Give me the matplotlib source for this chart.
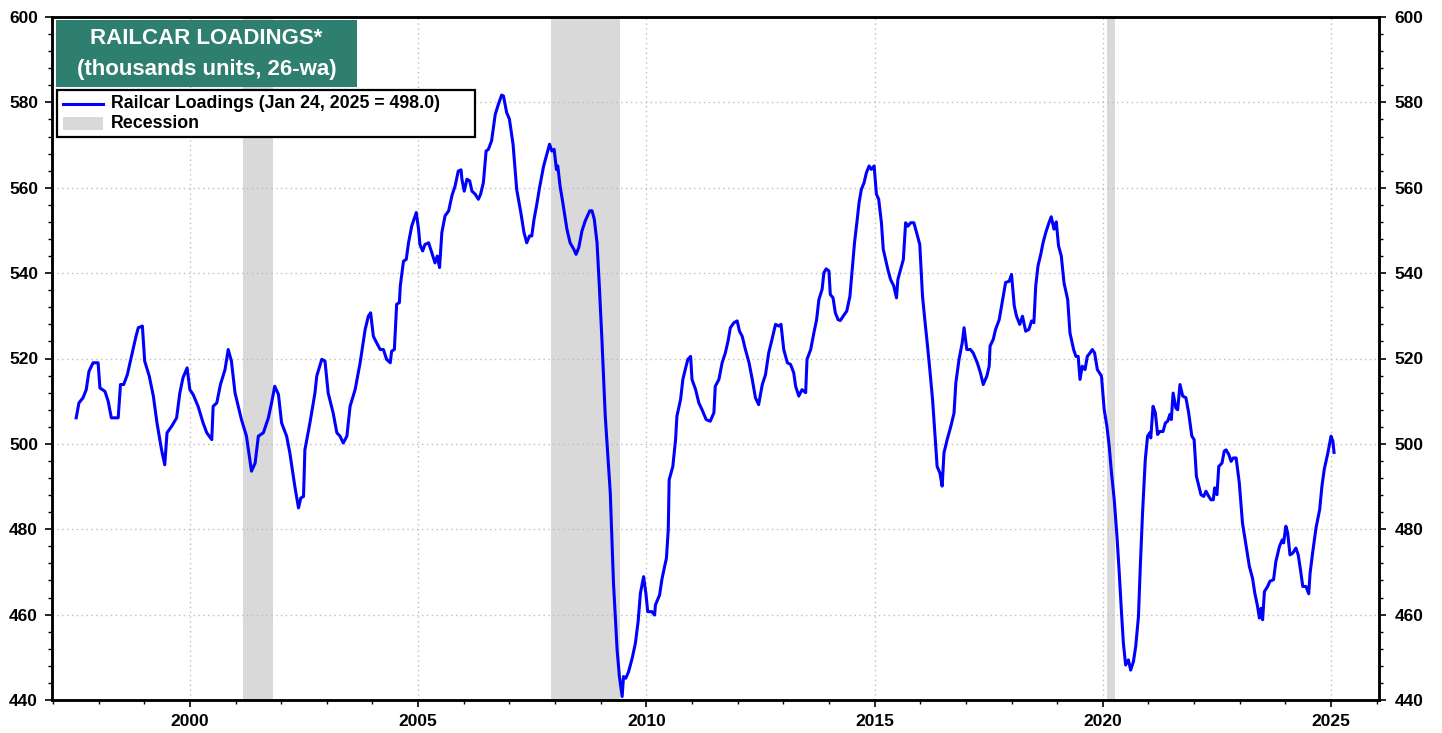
import matplotlib
matplotlib.use('Agg')
import matplotlib.pyplot as plt
from matplotlib.patches import Rectangle
from matplotlib.lines import Line2D
from matplotlib.ticker import MultipleLocator, FixedLocator, FixedFormatter

plt.rcParams['font.family'] = ['Liberation Sans', 'DejaVu Sans']
plt.rcParams['font.weight'] = 'bold'

# ---------------- data ----------------
years = [
    1997.51, 1997.57, 1997.66, 1997.73, 1997.79, 1997.88, 1997.99, 1998.03, 1998.14, 1998.21,
    1998.28, 1998.43, 1998.48, 1998.55, 1998.63, 1998.72, 1998.82, 1998.87, 1998.96, 1999.01,
    1999.11, 1999.20, 1999.28, 1999.38, 1999.45, 1999.50, 1999.60, 1999.71, 1999.78, 1999.85,
    1999.94, 2000.00, 2000.07, 2000.18, 2000.29, 2000.37, 2000.48, 2000.51, 2000.59, 2000.67,
    2000.77, 2000.84, 2000.91, 2000.99, 2001.13, 2001.24, 2001.35, 2001.43, 2001.50, 2001.61,
    2001.72, 2001.79, 2001.86, 2001.94, 2002.01, 2002.12, 2002.19, 2002.30, 2002.38, 2002.43,
    2002.49, 2002.52, 2002.63, 2002.74, 2002.78, 2002.89, 2002.96, 2003.03, 2003.14, 2003.22,
    2003.29, 2003.36, 2003.44, 2003.51, 2003.62, 2003.73, 2003.84, 2003.91, 2003.96, 2004.02,
    2004.09, 2004.17, 2004.24, 2004.31, 2004.39, 2004.42, 2004.48, 2004.53, 2004.59,
    2004.61, 2004.68, 2004.74, 2004.79, 2004.86, 2004.91, 2004.96, 2005.01, 2005.04, 2005.10,
    2005.15, 2005.23, 2005.30, 2005.37, 2005.42, 2005.47, 2005.52, 2005.59, 2005.67, 2005.74,
    2005.81, 2005.88, 2005.94, 2005.96, 2006.01, 2006.07, 2006.13, 2006.18, 2006.25, 2006.32,
    2006.37, 2006.43, 2006.49, 2006.54, 2006.61, 2006.69, 2006.76, 2006.83, 2006.87, 2006.94,
    2007.00, 2007.08, 2007.16, 2007.25, 2007.32, 2007.38, 2007.44, 2007.49, 2007.54, 2007.60,
    2007.66, 2007.75, 2007.82, 2007.88, 2007.93, 2007.98, 2008.03, 2008.06, 2008.11, 2008.17,
    2008.26, 2008.33, 2008.41, 2008.46, 2008.52, 2008.59, 2008.66, 2008.76, 2008.81, 2008.86,
    2008.92, 2008.97,
    2009.03, 2009.10, 2009.21, 2009.28, 2009.36, 2009.41, 2009.47, 2009.50, 2009.55, 2009.61,
    2009.69, 2009.76, 2009.82, 2009.87, 2009.94, 2009.99, 2010.03, 2010.12, 2010.18, 2010.20,
    2010.29, 2010.34, 2010.40, 2010.44, 2010.48, 2010.50, 2010.58, 2010.64, 2010.67, 2010.75,
    2010.80, 2010.87, 2010.91, 2010.97, 2011.00, 2011.08, 2011.15, 2011.22, 2011.31, 2011.40,
    2011.48, 2011.51, 2011.59, 2011.66, 2011.73, 2011.79, 2011.84, 2011.92, 2011.99, 2012.04,
    2012.10, 2012.17, 2012.25, 2012.32, 2012.39, 2012.46, 2012.54, 2012.61, 2012.68, 2012.76,
    2012.83, 2012.90, 2012.95, 2013.01, 2013.09,
    2013.16, 2013.23, 2013.27, 2013.34, 2013.41, 2013.49, 2013.52, 2013.60, 2013.67, 2013.73,
    2013.78, 2013.85, 2013.89, 2013.94, 2014.00, 2014.03, 2014.09, 2014.14, 2014.20, 2014.25,
    2014.31, 2014.39, 2014.46, 2014.51, 2014.56, 2014.62, 2014.66, 2014.71, 2014.77, 2014.82,
    2014.88, 2014.93, 2014.99, 2015.04, 2015.09, 2015.15, 2015.19, 2015.24, 2015.29, 2015.35,
    2015.42, 2015.48, 2015.51, 2015.57, 2015.63, 2015.68, 2015.73, 2015.79, 2015.86, 2015.92,
    2015.99, 2016.05, 2016.10, 2016.16, 2016.21, 2016.27, 2016.32, 2016.37, 2016.43, 2016.48,
    2016.52, 2016.59, 2016.67, 2016.74, 2016.78, 2016.85, 2016.92, 2016.96, 2017.02, 2017.10,
    2017.16, 2017.25, 2017.32, 2017.38, 2017.46, 2017.51, 2017.53, 2017.60, 2017.65, 2017.73,
    2017.80, 2017.87,
    2017.95, 2018.00, 2018.06, 2018.11, 2018.18, 2018.24, 2018.31, 2018.38, 2018.44, 2018.49,
    2018.53, 2018.58, 2018.64, 2018.69, 2018.75, 2018.82, 2018.87, 2018.93, 2018.98, 2019.03,
    2019.09, 2019.15, 2019.23, 2019.28, 2019.36, 2019.41, 2019.46, 2019.50, 2019.55, 2019.61,
    2019.66, 2019.72, 2019.77, 2019.82, 2019.88, 2019.97, 2020.03, 2020.09, 2020.14, 2020.19,
    2020.25, 2020.31, 2020.36, 2020.41, 2020.45, 2020.50, 2020.56, 2020.61, 2020.67, 2020.72,
    2020.78,
    2020.82, 2020.87, 2020.93, 2020.98, 2021.03, 2021.05, 2021.10, 2021.15, 2021.20, 2021.25,
    2021.32, 2021.37, 2021.42, 2021.47, 2021.50, 2021.54, 2021.60, 2021.64, 2021.69, 2021.75,
    2021.82, 2021.88, 2021.95, 2022.00, 2022.05, 2022.15, 2022.21, 2022.26, 2022.32, 2022.37,
    2022.42, 2022.45, 2022.50, 2022.54, 2022.61, 2022.66, 2022.70, 2022.76, 2022.81, 2022.86,
    2022.92, 2022.99, 2023.06, 2023.14, 2023.21, 2023.28, 2023.33, 2023.39, 2023.43, 2023.47,
    2023.50, 2023.54, 2023.61, 2023.66, 2023.74, 2023.79, 2023.87, 2023.93, 2023.96, 2024.01,
    2024.05, 2024.10, 2024.16, 2024.23, 2024.28, 2024.33, 2024.38, 2024.45, 2024.51, 2024.54,
    2024.60, 2024.67, 2024.75, 2024.80, 2024.85, 2024.93, 2025.00, 2025.04, 2025.065,
]

loadings = [
    506.1, 509.6, 510.8, 512.7, 517.0, 519.0, 519.0, 513.1, 512.3, 510.0,
    506.1, 506.1, 513.9, 513.9, 516.2, 520.5, 525.2, 527.2, 527.6, 519.4,
    515.9, 511.2, 504.9, 498.6, 495.1, 502.6, 504.1, 506.1, 511.9, 515.5,
    517.8, 512.7, 511.6, 508.8, 504.9, 502.6, 501.0, 508.8, 509.6, 513.9,
    517.4, 522.1, 519.4, 511.9, 505.7, 501.8, 493.6, 495.5, 501.8, 502.6,
    506.1, 509.6, 513.5, 511.6, 504.9, 501.8, 497.9, 490.0, 485.0, 487.3,
    487.7, 498.6, 504.9, 511.9, 515.9, 519.8, 519.4, 511.9, 507.2, 502.6,
    501.8, 500.2, 501.8, 508.8, 512.7, 519.0, 526.8, 529.9, 530.7, 525.2,
    523.7, 522.1, 522.1, 519.8, 519.0, 521.7, 522.1, 532.7, 533.1,
    537.0, 542.8, 543.2, 547.1, 551.0, 552.6, 554.2, 550.3, 546.7, 545.2,
    546.7, 547.1, 544.8, 542.4, 544.0, 541.3, 549.5, 553.4, 554.6, 558.1,
    560.4, 563.9, 564.2, 562.0, 559.2, 562.0, 561.6, 559.2, 558.5, 557.3,
    558.5, 561.2, 568.6, 569.0, 571.0, 577.2, 579.6, 581.7, 581.5, 577.6,
    576.1, 570.2, 559.6, 554.2, 549.5, 547.1, 548.7, 548.7, 552.6, 556.1,
    560.0, 565.1, 567.9, 570.2, 568.6, 569.0, 564.3, 565.1, 560.4, 556.5,
    550.3, 547.1, 545.6, 544.4, 546.0, 549.9, 552.2, 554.6, 554.6, 552.6,
    547.1, 537.0,
    523.7, 506.5, 488.5, 467.4, 451.7, 445.5, 440.8, 445.5, 445.1, 446.6,
    449.8, 453.3, 458.4, 465.0, 468.9, 465.0, 460.7, 460.7, 459.9, 462.3,
    464.6, 468.2, 471.3, 473.2, 479.9, 491.6, 494.7, 501.0, 506.5, 510.4,
    515.1, 518.2, 519.8, 520.5, 515.1, 512.7, 509.6, 508.0, 505.7, 505.3,
    507.3, 513.5, 515.1, 519.0, 521.3, 524.1, 527.2, 528.4, 528.8, 526.4,
    525.2, 522.1, 519.0, 515.1, 510.8, 509.2, 513.9, 516.2, 521.3, 524.8,
    528.0, 527.6, 528.0, 522.1, 519.0,
    518.6, 516.6, 513.5, 511.2, 512.7, 512.0, 519.8, 522.1, 526.0, 529.1,
    533.8, 536.2, 540.1, 541.0, 540.5, 535.0, 534.2, 530.7, 529.1, 528.9,
    529.9, 531.1, 534.6, 540.9, 547.1, 552.6, 556.5, 559.6, 561.2, 563.5,
    565.1, 564.3, 565.1, 558.5, 557.3, 551.8, 545.6, 543.2, 540.9, 538.5,
    537.0, 534.2, 538.5, 540.9, 543.2, 551.8, 551.0, 551.8, 551.8, 549.5,
    546.7, 534.6, 529.1, 522.9, 517.4, 510.4, 502.6, 494.7, 493.2, 490.1,
    497.9, 501.0, 504.1, 507.2, 514.3, 519.8, 523.7, 527.2, 522.1, 522.1,
    521.3, 519.0, 516.6, 513.9, 515.9, 518.2, 522.9, 524.5, 526.8, 529.1,
    533.4, 537.8,
    538.1, 539.7, 532.3, 529.9, 528.0, 529.9, 526.4, 526.8, 528.8, 528.4,
    537.0, 541.7, 544.4, 547.1, 549.5, 551.8, 553.2, 550.3, 552.0, 546.4,
    544.0, 537.7, 533.8, 526.0, 522.1, 520.5, 520.5, 515.1, 518.2, 517.4,
    520.5, 521.3, 522.1, 521.3, 517.4, 515.9, 508.0, 504.1, 499.4, 493.2,
    486.9, 478.3, 469.7, 460.3, 453.3, 448.2, 449.4, 447.0, 449.0, 452.5,
    459.5,
    471.0, 483.8, 496.3, 501.8, 502.6, 501.4, 508.8, 507.3, 502.2, 502.9,
    502.9, 504.9, 505.3, 506.9, 505.7, 511.9, 508.4, 508.0, 513.9, 511.2,
    510.8, 507.3, 501.8, 501.0, 492.4, 488.1, 487.7, 488.9, 487.7, 486.9,
    486.9, 489.7, 488.1, 494.7, 495.5, 498.3, 498.6, 497.5, 495.9, 496.7,
    496.7, 490.8, 481.4, 476.0, 471.3, 468.5, 465.0, 461.9, 459.2, 461.5,
    458.8, 465.4, 466.6, 467.8, 468.2, 472.4, 476.0, 477.5, 476.8, 480.7,
    479.1, 474.0, 474.4, 475.6, 474.0, 470.5, 466.6, 466.6, 464.9, 469.7,
    474.8, 480.3, 484.6, 490.1, 494.0, 497.9, 501.8, 500.6, 498.0,
]

recession_start = [2001.17, 2007.92, 2020.10]
recession_end = [2001.83, 2009.42, 2020.27]

xtick_years = [2000, 2005, 2010, 2015, 2020, 2025]
xtick_labels = ['2000', '2005', '2010', '2015', '2020', '2025']
ytick_values = [440, 460, 480, 500, 520, 540, 560, 580, 600]
ytick_labels = ['440', '460', '480', '500', '520', '540', '560', '580', '600']

title_lines = ['RAILCAR LOADINGS*', '(thousands units, 26-wa)']
legend_series = 'Railcar Loadings (Jan 24, 2025 = %.1f)' % loadings[-1]
legend_recession = 'Recession'

# ---------------- figure ----------------
W, H = 1442, 733
fig = plt.figure(figsize=(W / 100, H / 100), dpi=100)
fig.patch.set_facecolor('white')


def fx(px):
    return px / W


def fy(py):
    return 1 - py / H


ax = fig.add_axes([fx(52), fy(700), (1379 - 52) / W, (700 - 17) / H])

LINE_BLUE = '#0000FF'
REC_GREY = '#D9D9D9'

for s, e in zip(recession_start, recession_end):
    ax.axvspan(s, e, color=REC_GREY, lw=0, zorder=1)

ax.plot(years, loadings, color=LINE_BLUE, lw=2.2, zorder=3, solid_joinstyle='round')

ax.set_xlim(1996.98, 2026.05)
ax.set_ylim(440, 600)

ax.xaxis.set_major_locator(FixedLocator(xtick_years))
ax.xaxis.set_major_formatter(FixedFormatter(xtick_labels))
ax.xaxis.set_minor_locator(MultipleLocator(1))
ax.yaxis.set_major_locator(FixedLocator(ytick_values))
ax.yaxis.set_major_formatter(FixedFormatter(ytick_labels))
ax.yaxis.set_minor_locator(MultipleLocator(4))

ax.grid(True, which='major', linestyle=(0, (1, 2.5)), color='#BDBDBD', lw=1.0, zorder=1.5)

ax.tick_params(axis='x', which='major', direction='out', length=5, width=1.2,
               labelsize=12.5, pad=5, colors='black')
ax.tick_params(axis='x', which='minor', direction='out', length=3, width=1.0)
ax.tick_params(axis='y', which='major', direction='out', length=5, width=1.2,
               labelsize=12.5, pad=5)
ax.tick_params(axis='y', which='minor', direction='out', length=3, width=1.0)

for sp in ax.spines.values():
    sp.set_linewidth(1.8)
    sp.set_color('black')

ax2 = ax.twinx()
ax2.set_ylim(440, 600)
ax2.yaxis.set_major_locator(FixedLocator(ytick_values))
ax2.yaxis.set_major_formatter(FixedFormatter(ytick_labels))
ax2.yaxis.set_minor_locator(MultipleLocator(4))
ax2.tick_params(axis='y', which='major', direction='out', length=5, width=1.2,
                labelsize=12.5, pad=6)
ax2.tick_params(axis='y', which='minor', direction='out', length=3, width=1.0)
for sp in ax2.spines.values():
    sp.set_linewidth(1.8)

# ---------------- title box ----------------
fig.add_artist(Rectangle((fx(56), fy(87)), (357 - 56) / W, (87 - 20) / H,
                         transform=fig.transFigure, facecolor='#2E7F6F',
                         edgecolor='none', zorder=5))
fig.text(fx(206.5), fy(38.5), title_lines[0], color='white', fontsize=16,
         fontweight='bold', ha='center', va='center', zorder=6)
fig.text(fx(206.5), fy(69), title_lines[1], color='white', fontsize=16,
         fontweight='bold', ha='center', va='center', zorder=6)

# ---------------- legend box ----------------
fig.add_artist(Rectangle((fx(57), fy(137)), (475 - 57) / W, (137 - 90) / H,
                         transform=fig.transFigure, facecolor='white',
                         edgecolor='black', lw=1.6, zorder=5))
fig.add_artist(Line2D([fx(63), fx(103)], [fy(104), fy(104)], transform=fig.transFigure,
                      color=LINE_BLUE, lw=2.2, zorder=6))
fig.add_artist(Rectangle((fx(63), fy(130)), 40 / W, 13 / H, transform=fig.transFigure,
                         facecolor=REC_GREY, edgecolor='none', zorder=6))
fig.text(fx(111), fy(104), legend_series, fontsize=12.8, fontweight='bold',
         ha='left', va='center', zorder=7)
fig.text(fx(111), fy(124), legend_recession, fontsize=12.8, fontweight='bold',
         ha='left', va='center', zorder=7)

fig.savefig('out.png', dpi=100, facecolor='white')
